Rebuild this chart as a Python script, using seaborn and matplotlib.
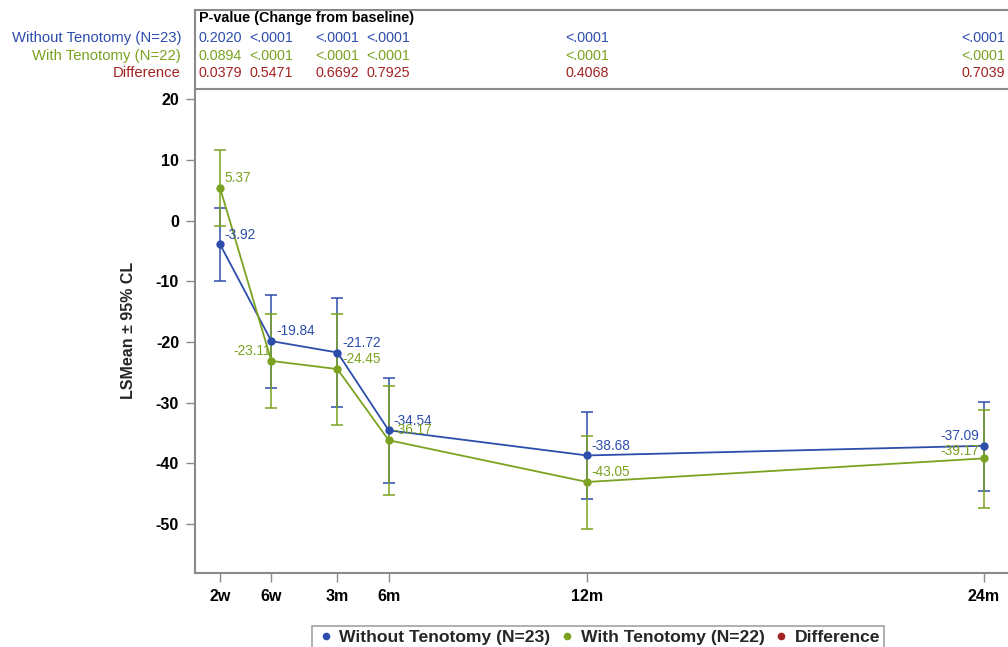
import numpy as np
import pandas as pd
import matplotlib
matplotlib.use("Agg")
import matplotlib.pyplot as plt
import matplotlib.transforms as mtransforms
from matplotlib.lines import Line2D
import seaborn as sns

# ---------------- data ----------------
visit_labels = ['2w', '6w', '3m', '6m', '12m', '24m']
visit_x = [0.9, 2.45, 4.45, 6, 12, 24]

group_names = ['Without Tenotomy (N=23)', 'With Tenotomy (N=22)']

without_mean = [-3.92, -19.84, -21.72, -34.54, -38.68, -37.09]
without_lo = [-10.0, -27.5, -30.7, -43.2, -45.9, -44.5]
without_hi = [2.1, -12.3, -12.8, -26.0, -31.6, -29.8]

with_mean = [5.37, -23.11, -24.45, -36.17, -43.05, -39.17]
with_lo = [-0.9, -30.9, -33.6, -45.2, -50.8, -47.3]
with_hi = [11.6, -15.4, -15.35, -27.2, -35.4, -31.2]

p_without = ['0.2020', '<.0001', '<.0001', '<.0001', '<.0001', '<.0001']
p_with = ['0.0894', '<.0001', '<.0001', '<.0001', '<.0001', '<.0001']
p_diff = ['0.0379', '0.5471', '0.6692', '0.7925', '0.4068', '0.7039']

y_ticks = [20, 10, 0, -10, -20, -30, -40, -50]

# ---------------- style ----------------
sns.set_theme(style='white')
plt.rcParams['font.family'] = ['Liberation Sans', 'DejaVu Sans']

BLUE = '#2D4DAB'
GREEN = '#7BA321'
RED = '#A32222'
GREY = '#8A8A8A'

W, H = 1008, 647
fig = plt.figure(figsize=(W / 100, H / 100), dpi=100)
left_px, right_px = 195, 1016.6
ax = fig.add_axes([left_px / W, 1 - 572.7 / H, (right_px - left_px) / W, (572.7 - 89) / H])
tax = fig.add_axes([left_px / W, 1 - 89 / H, (right_px - left_px) / W, (89 - 10) / H])

df = pd.DataFrame({
    'visit': visit_x + visit_x,
    'mean': without_mean + with_mean,
    'group': [group_names[0]] * len(visit_x) + [group_names[1]] * len(visit_x),
})

palette = {group_names[0]: BLUE, group_names[1]: GREEN}

# error bars
for mean, lo, hi, col in [(without_mean, without_lo, without_hi, BLUE),
                          (with_mean, with_lo, with_hi, GREEN)]:
    m = np.array(mean)
    ax.errorbar(visit_x, m, yerr=[m - np.array(lo), np.array(hi) - m], fmt='none',
                ecolor=col, elinewidth=1.1, capsize=4.5, capthick=1.1, zorder=2)

sns.lineplot(data=df, x='visit', y='mean', hue='group', palette=palette,
             marker='o', markersize=6, markeredgewidth=0, linewidth=1.3,
             sort=False, legend=False, ax=ax, zorder=3)

# data labels
blue_ha = ['left', 'left', 'left', 'left', 'left', 'right']
green_ha = ['left', 'right', 'left', 'left', 'left', 'right']
for vals, has, col in [(without_mean, blue_ha, BLUE), (with_mean, green_ha, GREEN)]:
    for xv, yv, ha in zip(visit_x, vals, has):
        dx = 3.3 if ha == 'left' else -3.3
        if col == GREEN and ha == 'right' and xv != visit_x[-1]:
            dx = -0.5
        dy = 7.0 if not (col == GREEN and xv == visit_x[-1]) else 5.5
        ax.annotate(f'{yv:.2f}', (xv, yv), xytext=(dx, dy), textcoords='offset points',
                    ha=ha, va='center', color=col, fontsize=9.8, zorder=4)

ax.set_xlim(0.14, 25.0)
ax.set_ylim(-58.0, 21.7)
ax.set_xticks(visit_x)
ax.set_xticklabels(visit_labels, fontweight='bold', fontsize=11.5)
ax.set_yticks(y_ticks)
ax.set_yticklabels([str(t) for t in y_ticks], fontweight='bold', fontsize=11.5)
ax.set_xlabel('')
ax.set_ylabel('LSMean ± 95% CL', fontweight='bold', fontsize=11.5, labelpad=14)
ax.tick_params(axis='both', which='major', direction='out', length=6.5, width=1.0,
               pad=5, bottom=True, left=True)
ax.tick_params(axis='x', colors=GREY, labelcolor='black')
ax.tick_params(axis='y', colors=GREY, labelcolor='black')
for s in ['top', 'right']:
    ax.spines[s].set_visible(False)
for s in ['left', 'bottom']:
    ax.spines[s].set_color(GREY)
    ax.spines[s].set_linewidth(1.5)

# ---------------- p-value table ----------------
tax.set_xlim(ax.get_xlim())
tax.set_ylim(0, 1)
tax.set_xticks([])
tax.set_yticks([])
tax.spines['right'].set_visible(False)
for s in ['left', 'top', 'bottom']:
    tax.spines[s].set_color(GREY)
    tax.spines[s].set_linewidth(1.5)
tax.set_facecolor('white')

span = right_px - left_px
trans = mtransforms.blended_transform_factory(tax.transData, tax.transAxes)
tax.text(4 / span, 1 - (18 - 10) / 79, 'P-value (Change from baseline)', transform=tax.transAxes,
         ha='left', va='center', fontsize=10.4, fontweight='bold', color='black')
rows = [(group_names[0], p_without, BLUE, 38.3),
        (group_names[1], p_with, GREEN, 56.0),
        ('Difference', p_diff, RED, 73.3)]
for name, vals, col, ypx in rows:
    yf = 1 - (ypx - 10) / 79
    tax.text(-14 / span, yf, name, transform=tax.transAxes, ha='right',
             va='center', fontsize=10.7, color=col, clip_on=False)
    for xv, v in zip(visit_x, vals):
        tax.text(xv, yf, v, transform=trans, ha='center', va='center', fontsize=10.3, color=col)

# ---------------- legend ----------------
handles = [Line2D([], [], marker='o', linestyle='none', markersize=5.5, markeredgewidth=0, color=c)
           for c in (BLUE, GREEN, RED)]
leg = fig.legend(handles, group_names + ['Difference'], loc='center',
                 bbox_to_anchor=(598 / W, 1 - 637 / H), ncol=3, frameon=True,
                 fancybox=False, edgecolor=GREY, prop={'weight': 'bold', 'size': 12.6},
                 handletextpad=0.2, columnspacing=0.4, borderpad=0.2, handlelength=1.13)
leg.get_frame().set_linewidth(1.2)

fig.savefig('out.png', dpi=100)
